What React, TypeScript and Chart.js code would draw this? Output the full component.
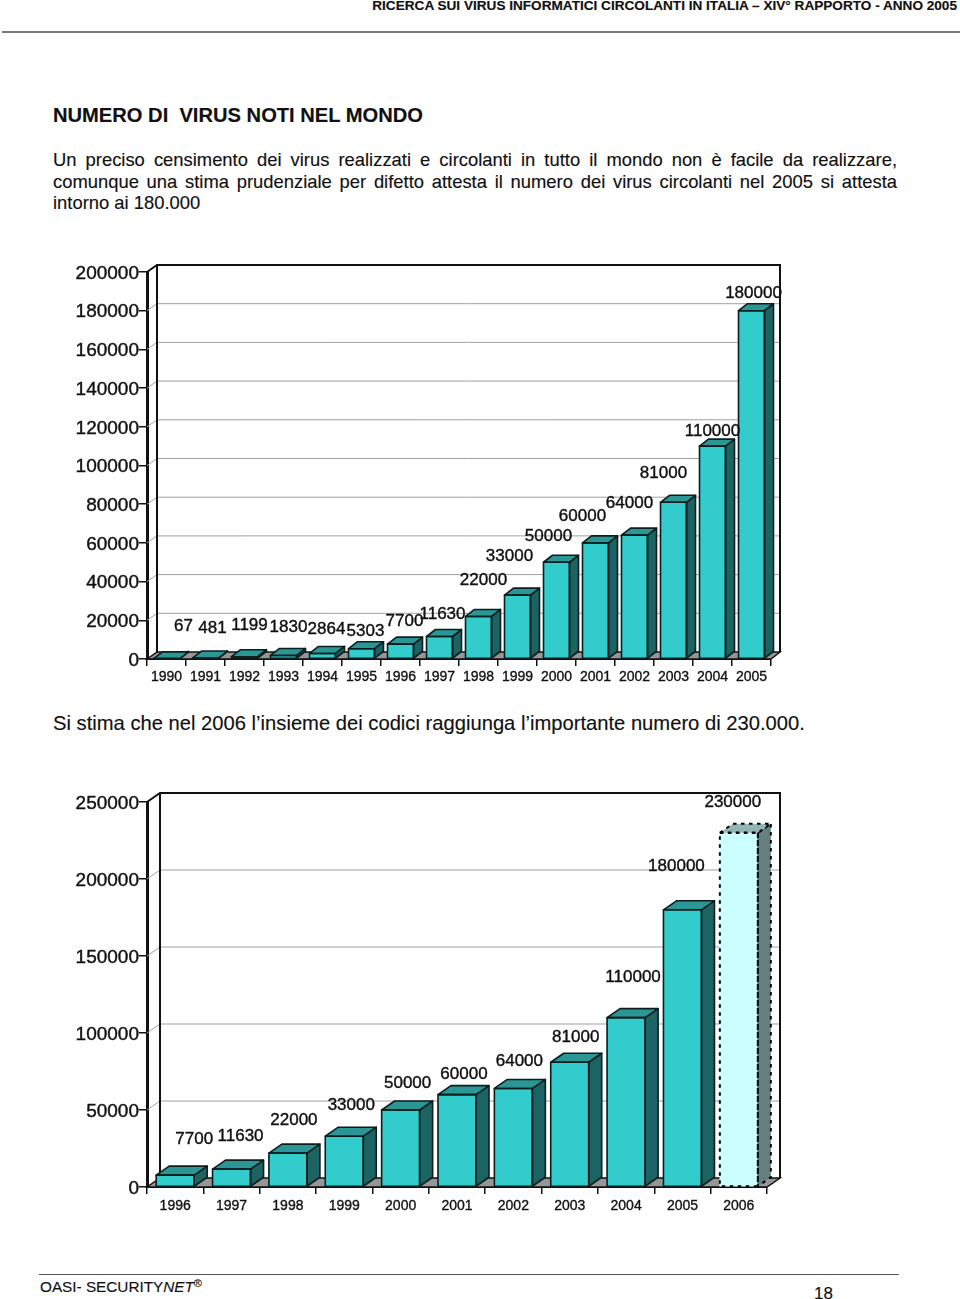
import React, { useEffect, useRef } from "react";
import { Chart, registerables } from "chart.js";

Chart.register(...registerables);

const FONT = '"Liberation Sans", Arial, sans-serif';

const yearsWorld = ["1990","1991","1992","1993","1994","1995","1996","1997","1998","1999","2000","2001","2002","2003","2004","2005"];
const virusWorld = [67,481,1199,1830,2864,5303,7700,11630,22000,33000,50000,60000,64000,81000,110000,180000];
const labelShiftXWorld = [17,7,5,5,4,4,4,3,5,-8,-8,-13,-5,-10,0,2];
const labelShiftYWorld = [-33,-30,-31,-28,-24,-17,-23,-22,-36,-39,-26,-27,-32,-29,-15,-17];

const yearsForecast = ["1996","1997","1998","1999","2000","2001","2002","2003","2004","2005","2006"];
const virusForecast = [7700,11630,22000,33000,50000,60000,64000,81000,110000,180000,230000];
const labelShiftXForecast = [19,9,6,7,7,7,6,6,7,-6,-6];
const labelShiftYForecast = [-36,-33,-33,-31,-27,-20,-27,-25,-40,-43,-30];

const NORMAL = { front: "#33CCCC", top: "#2A9696", side: "#1C6464" };
const ESTIMATE = { front: "#CCFFFF", top: "#8FB5B5", side: "#668080" };
const EDGE = "#0E1E1E";

const bar3d = {
  id: "bar3d",
  beforeDatasetsDraw(chart: any, _a: any, o: any) {
    const { ctx, chartArea: ca, scales } = chart;
    const { wallDx: dx, wallDy: dy, rightEdge } = o;
    ctx.save();
    ctx.strokeStyle = "#A0A0A0";
    ctx.lineWidth = 1;
    scales.y.ticks.forEach((t: any) => {
      if (t.value === 0 || t.value === scales.y.max) return;
      const y = scales.y.getPixelForValue(t.value);
      ctx.beginPath();
      ctx.moveTo(ca.left, y);
      ctx.lineTo(ca.left + dx, y - dy);
      ctx.lineTo(rightEdge, y - dy);
      ctx.stroke();
    });
    ctx.beginPath();
    ctx.moveTo(ca.left, ca.bottom);
    ctx.lineTo(ca.left + dx, ca.bottom - dy);
    ctx.lineTo(rightEdge, ca.bottom - dy);
    ctx.lineTo(ca.right, ca.bottom);
    ctx.closePath();
    ctx.fillStyle = "#969696";
    ctx.fill();
    ctx.strokeStyle = "#111";
    ctx.lineWidth = 1.5;
    ctx.stroke();
    ctx.lineWidth = 2;
    ctx.beginPath();
    ctx.moveTo(ca.left, ca.top);
    ctx.lineTo(ca.left + dx, ca.top - dy);
    ctx.lineTo(rightEdge, ca.top - dy);
    ctx.lineTo(rightEdge, ca.bottom - dy);
    ctx.moveTo(ca.left + dx, ca.top - dy);
    ctx.lineTo(ca.left + dx, ca.bottom - dy);
    ctx.stroke();
    ctx.restore();
  },
  afterDatasetsDraw(chart: any, _a: any, o: any) {
    const { ctx } = chart;
    const { barDx: dx, barDy: dy, shiftX, shiftY, estimateIndex, labelFont } = o;
    const meta = chart.getDatasetMeta(0);
    const values = chart.data.datasets[0].data;
    ctx.save();
    meta.data.forEach((bar: any, i: number) => {
      const p = i === estimateIndex ? ESTIMATE : NORMAL;
      const half = bar.width / 2;
      const l = bar.x - half, r = bar.x + half, t = bar.y, b = bar.base;
      const est = i === estimateIndex;
      ctx.lineJoin = "round";
      ctx.setLineDash(est ? [3.5, 4.5] : []);
      ctx.strokeStyle = est ? "#000" : EDGE;
      ctx.lineWidth = est ? 2 : 1.6;
      ctx.fillStyle = p.side;
      ctx.beginPath();
      ctx.moveTo(r, t); ctx.lineTo(r + dx, t - dy); ctx.lineTo(r + dx, b - dy); ctx.lineTo(r, b);
      ctx.closePath(); ctx.fill(); ctx.stroke();
      ctx.fillStyle = p.top;
      ctx.beginPath();
      ctx.moveTo(l, t); ctx.lineTo(l + dx, t - dy); ctx.lineTo(r + dx, t - dy); ctx.lineTo(r, t);
      ctx.closePath(); ctx.fill(); ctx.stroke();
      ctx.beginPath();
      ctx.rect(l, t, r - l, b - t);
      ctx.stroke();
    });
    ctx.setLineDash([]);
    ctx.fillStyle = "#111";
    ctx.strokeStyle = "#111";
    ctx.lineWidth = 0.4;
    ctx.font = labelFont;
    ctx.textAlign = "center";
    ctx.textBaseline = "middle";
    meta.data.forEach((bar: any, i: number) => {
      ctx.fillText(String(values[i]), bar.x + shiftX[i], bar.y + shiftY[i]);
      ctx.strokeText(String(values[i]), bar.x + shiftX[i], bar.y + shiftY[i]);
    });
    ctx.restore();
  },
};

interface Bar3DProps {
  top: number; height: number; years: string[]; values: number[]; max: number; step: number;
  barWidth: number; plotRight: number; plotTop: number; axisHeight: number; xPad: number;
  wallDx: number; wallDy: number; wallRight: number; barDx: number; barDy: number;
  shiftX: number[]; shiftY: number[]; estimateIndex: number;
}

function Bar3D(p: Bar3DProps) {
  const ref = useRef<HTMLCanvasElement>(null);
  useEffect(() => {
    const chart = new Chart(ref.current!, {
      type: "bar",
      data: {
        labels: p.years,
        datasets: [{
          data: p.values,
          barThickness: p.barWidth,
          backgroundColor: p.values.map((_, i) => (i === p.estimateIndex ? ESTIMATE.front : NORMAL.front)),
          borderWidth: 0,
        }],
      },
      plugins: [bar3d],
      options: {
        animation: false,
        responsive: false,
        maintainAspectRatio: false,
        layout: { padding: { top: p.plotTop, right: 960 - p.plotRight, left: 0, bottom: 0 } },
        plugins: {
          legend: { display: false },
          tooltip: { enabled: false },
          title: { display: false },
          bar3d: {
            wallDx: p.wallDx, wallDy: p.wallDy, rightEdge: p.wallRight,
            barDx: p.barDx, barDy: p.barDy, shiftX: p.shiftX, shiftY: p.shiftY,
            estimateIndex: p.estimateIndex, labelFont: `17px ${FONT}`,
          },
        } as any,
        scales: {
          x: {
            afterFit: (s: any) => { s.height = p.axisHeight; },
            grid: { drawOnChartArea: false, drawTicks: true, tickLength: 7, color: "#111", lineWidth: 1.5, offset: true },
            border: { color: "#111", width: 2 },
            ticks: { font: { family: FONT, size: 14 }, color: "#111", textStrokeColor: "#111", textStrokeWidth: 0.35, padding: p.xPad, maxRotation: 0, autoSkip: false },
          },
          y: {
            min: 0, max: p.max,
            afterFit: (s: any) => { s.width = 147; },
            grid: { drawOnChartArea: false, drawTicks: true, tickLength: 8, color: "#111", lineWidth: 1.5 },
            border: { color: "#111", width: 3 },
            ticks: { stepSize: p.step, font: { family: FONT, size: 19 }, color: "#111", textStrokeColor: "#111", textStrokeWidth: 0.4, padding: 0, labelOffset: 1.5, callback: (v: any) => String(v) },
          },
        },
      },
    } as any);
    return () => chart.destroy();
  }, []);
  return <canvas ref={ref} width={960} height={p.height} style={{ position: "absolute", left: 0, top: p.top, width: 960, height: p.height }} />;
}

const T = (s: React.CSSProperties, c: React.ReactNode) => (
  <div style={{ position: "absolute", whiteSpace: "nowrap", fontFamily: FONT, color: "#111", WebkitTextStroke: "0.15px #111", ...s } as any}>{c}</div>
);

const J = (top: number, text: string) => (
  <div style={{ position: "absolute", left: 53, width: 844, top, fontFamily: FONT, fontSize: 18.4, lineHeight: "22px", color: "#111", WebkitTextStroke: "0.15px #111", textAlign: "justify", textAlignLast: "justify", whiteSpace: "normal" } as any}>{text}</div>
);

export default function App() {
  return (
    <div style={{ position: "absolute", left: 0, top: 0, width: 960, height: 1299, overflow: "hidden", background: "#fff" }}>
      {T({ right: 3, top: -2, fontSize: 13.6, fontWeight: 700, lineHeight: "16px" }, "RICERCA SUI VIRUS INFORMATICI CIRCOLANTI IN ITALIA – XIV° RAPPORTO - ANNO 2005")}
      <div style={{ position: "absolute", left: 2, top: 31, width: 958, height: 2, background: "#777" }} />
      {T({ left: 53, top: 103, fontSize: 20.15, fontWeight: 700, lineHeight: "24px", whiteSpace: "pre" }, "NUMERO DI  VIRUS NOTI NEL MONDO")}
      {J(149, "Un preciso censimento dei virus realizzati e circolanti in tutto il mondo non è facile da realizzare,")}
      {J(171, "comunque una stima prudenziale per difetto attesta il numero dei virus circolanti nel 2005 si attesta")}
      {T({ left: 53, top: 192, fontSize: 18.4, lineHeight: "22px" }, "intorno ai 180.000")}
      <Bar3D top={250} height={450} years={yearsWorld} values={virusWorld} max={200000} step={20000}
        barWidth={26} plotRight={771} plotTop={22} axisHeight={41} xPad={3}
        wallDx={10} wallDy={7} wallRight={780} barDx={9} barDy={7}
        shiftX={labelShiftXWorld} shiftY={labelShiftYWorld} estimateIndex={-1} />
      {T({ left: 53, top: 712, fontSize: 20.2, lineHeight: "23px" }, "Si stima che nel 2006 l’insieme dei codici raggiunga l’importante numero di 230.000.")}
      <Bar3D top={780} height={450} years={yearsForecast} values={virusForecast} max={250000} step={50000}
        barWidth={38} plotRight={767} plotTop={22} axisHeight={43} xPad={4}
        wallDx={13} wallDy={9} wallRight={780} barDx={13} barDy={9}
        shiftX={labelShiftXForecast} shiftY={labelShiftYForecast} estimateIndex={10} />
      <div style={{ position: "absolute", left: 39, top: 1274, width: 860, height: 1, background: "#555" }} />
      {T({ left: 40, top: 1278, fontSize: 15.3, lineHeight: "18px" }, <>OASI- SECURITY<i>NET</i><sup style={{ fontSize: 11, verticalAlign: "5px", lineHeight: 0 }}>®</sup></>)}
      {T({ left: 814, top: 1284, fontSize: 17, lineHeight: "20px" }, "18")}
    </div>
  );
}
